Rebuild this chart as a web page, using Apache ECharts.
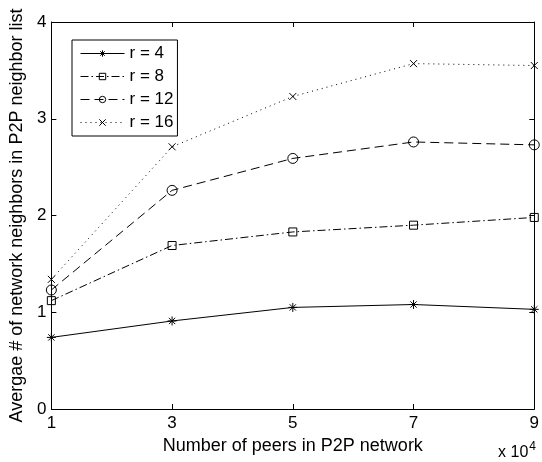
<!DOCTYPE html>
<html>
<head>
<meta charset="utf-8">
<script src="https://cdn.jsdelivr.net/npm/echarts@6/dist/echarts.min.js"></script>
<style>html,body{margin:0;padding:0;background:#fff}#c{width:542px;height:462px}</style>
</head>
<body>
<div id="c"></div>
<script>
const xValues = [1, 3, 5, 7, 9];
const seriesNames = ['r = 4', 'r = 8', 'r = 12', 'r = 16'];
const r4  = [0.74, 0.91, 1.05, 1.08, 1.03];
const r8  = [1.12, 1.69, 1.83, 1.90, 1.98];
const r12 = [1.23, 2.26, 2.59, 2.76, 2.73];
const r16 = [1.34, 2.71, 3.23, 3.57, 3.55];
const yTicks = [0, 1, 2, 3, 4];

const FONT = 'Liberation Sans, Arial, sans-serif';
const FS = 17;
const NFS = 18;

const symbols = [
  'path://M5,0L5,10M0,5L10,5M1.5,1.5L8.5,8.5M8.5,1.5L1.5,8.5',
  'path://M0,0L10,0L10,10L0,10Z',
  'path://M10,5A5,5,0,1,1,0,5A5,5,0,1,1,10,5Z',
  'path://M0,0L10,10M10,0L0,10'
];
const symbolSizes = [9, 8, 10, 7];
const dashes = ['solid', [8, 3, 1.5, 3], [9, 5], [1, 4]];
const allData = [r4, r8, r12, r16];

const series = allData.map((vals, i) => ({
  name: seriesNames[i],
  type: 'line',
  xAxisIndex: 0,
  yAxisIndex: 0,
  data: vals.map((v, j) => [xValues[j], v]),
  symbol: symbols[i],
  symbolSize: symbolSizes[i],
  showAllSymbol: true,
  lineStyle: { color: '#000', width: 1, type: dashes[i] },
  itemStyle: { color: 'rgba(0,0,0,0)', borderColor: '#000', borderWidth: 1 },
  emphasis: { disabled: true },
  animation: false
}));

const chart = echarts.init(document.getElementById('c'), null, { renderer: 'canvas' });
const axisCommon = {
  type: 'value',
  axisLine: { show: true, onZero: false, lineStyle: { color: '#000', width: 1 } },
  axisTick: { show: true, inside: true, length: 5, lineStyle: { color: '#000' } },
  splitLine: { show: false }
};
chart.setOption({
  animation: false,
  textStyle: { fontFamily: FONT },
  grid: { left: 45, right: 5, top: 22, bottom: 53, containLabel: false },
  legend: {
    orient: 'vertical',
    left: 72, top: 40,
    padding: [5, 4, 5, 8],
    itemGap: 6,
    itemWidth: 44,
    itemHeight: 8,
    borderColor: '#000', borderWidth: 1,
    backgroundColor: '#fff',
    data: seriesNames,
    textStyle: { fontSize: FS, color: '#000', fontFamily: FONT },
    itemStyle: { color: 'rgba(0,0,0,0)', borderColor: '#000', borderWidth: 1 },
    lineStyle: { width: 1, color: '#000' },
    selectedMode: false
  },
  xAxis: [
    Object.assign({}, axisCommon, {
      position: 'bottom', min: 1, max: 9, interval: 2,
      axisLabel: { show: true, color: '#000', fontSize: FS, margin: 6, fontFamily: FONT },
      name: 'Number of peers in P2P network',
      nameLocation: 'middle', nameGap: 23,
      nameTextStyle: { fontSize: NFS, color: '#000', fontFamily: FONT }
    }),
    Object.assign({}, axisCommon, {
      position: 'top', min: 1, max: 9, interval: 2,
      axisLabel: { show: false }
    })
  ],
  yAxis: [
    Object.assign({}, axisCommon, {
      position: 'left', min: yTicks[0], max: yTicks[yTicks.length - 1], interval: 1,
      axisLabel: { show: true, color: '#000', fontSize: FS, margin: 5, fontFamily: FONT },
      name: 'Avergae # of network neighbors in P2P neighbor list',
      nameLocation: 'middle', nameGap: 23, nameRotate: 90,
      nameTextStyle: { fontSize: NFS, color: '#000', fontFamily: FONT }
    }),
    Object.assign({}, axisCommon, {
      position: 'right', min: yTicks[0], max: yTicks[yTicks.length - 1], interval: 1,
      axisLabel: { show: false }
    })
  ],
  graphic: [{
    type: 'text',
    right: 6, top: 441,
    style: {
      text: 'x 10{sup|4}',
      font: '16px ' + FONT,
      fill: '#000',
      rich: { sup: { fontSize: 12, verticalAlign: 'top', padding: [0, 0, 12, 1], fontFamily: FONT } }
    }
  }],
  series: series
});
</script>
</body>
</html>
